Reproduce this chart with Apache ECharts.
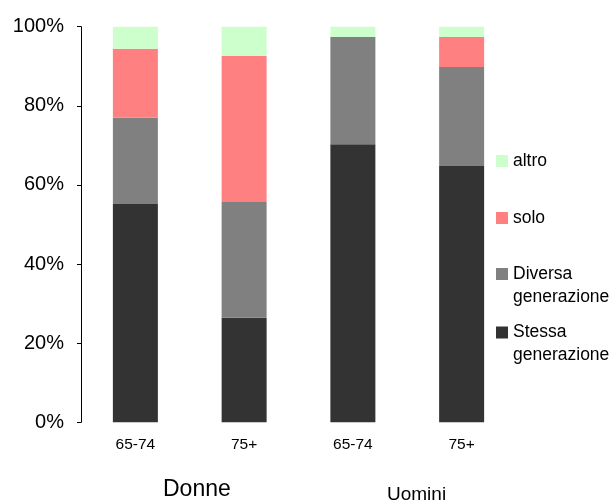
<!DOCTYPE html>
<html>
<head>
<meta charset="utf-8">
<script src="https://cdn.jsdelivr.net/npm/echarts@6/dist/echarts.min.js"></script>
<style>
  html, body { margin: 0; padding: 0; background: #fff; }
  #chart { width: 612px; height: 502px; }
</style>
</head>
<body>
<div id="chart"></div>
<script>
// Living arrangements of older people, by sex and age group (share of total, %)
const categories = ['65-74', '75+', '65-74', '75+'];
const groupLabels = ['Donne', 'Uomini'];
const yTicks = [0, 20, 40, 60, 80, 100];

const stessaGenerazione = [55.2, 26.4, 70.3, 64.8];
const diversaGenerazione = [21.8, 29.3, 27.1, 25.0];
const solo = [17.4, 36.9, 0, 7.6];
const altro = [5.6, 7.4, 2.6, 2.6];

const FONT = '"Liberation Sans", Arial, sans-serif';
const chart = echarts.init(document.getElementById('chart'), null, { renderer: 'canvas' });

const seriesDefs = [
  { name: 'Stessa generazione', data: stessaGenerazione, color: '#333333', label: '\nStessa\ngenerazione', top: 298 },
  { name: 'Diversa generazione', data: diversaGenerazione, color: '#808080', label: '\nDiversa\ngenerazione', top: 239.5 },
  { name: 'solo', data: solo, color: '#FF8080', label: 'solo', top: 206.5 },
  { name: 'altro', data: altro, color: '#CCFFCC', label: 'altro', top: 149.5 }
];

// one legend block per entry so each can sit at its own height
const legends = seriesDefs.map(s => ({
  data: [s.name],
  orient: 'vertical',
  left: 496,
  top: s.top,
  padding: 0,
  icon: 'rect',
  itemWidth: 12,
  itemHeight: 12,
  selectedMode: false,
  formatter: () => s.label,
  textStyle: { fontFamily: FONT, fontSize: 17.5, lineHeight: 23, color: '#000' }
}));

chart.setOption({
  animation: false,
  backgroundColor: '#fff',
  grid: { left: 81, right: 96, top: 26.7, bottom: 79.7 },
  legend: legends,
  xAxis: {
    type: 'category',
    data: categories,
    axisLine: { show: false },
    axisTick: { show: false },
    axisLabel: { fontFamily: FONT, fontSize: 15.5, color: '#000', margin: 14 }
  },
  yAxis: {
    type: 'value',
    min: yTicks[0],
    max: yTicks[yTicks.length - 1],
    interval: yTicks[1] - yTicks[0],
    splitLine: { show: false },
    axisLine: { show: true, lineStyle: { color: '#000', width: 1 } },
    axisTick: { show: true, length: 4, lineStyle: { color: '#000' } },
    axisLabel: { fontFamily: FONT, fontSize: 20, color: '#000', margin: 17, formatter: '{value}%' }
  },
  series: seriesDefs.map(s => ({
    name: s.name,
    type: 'bar',
    stack: 'total',
    barWidth: 45,
    data: s.data,
    itemStyle: { color: s.color }
  })),
  graphic: [
    { type: 'text', left: 200 - 37, top: 478, style: { text: groupLabels[0], fontFamily: FONT, fontSize: 23, fill: '#000' } },
    { type: 'text', left: 417 - 30, top: 485, style: { text: groupLabels[1], fontFamily: FONT, fontSize: 19, fill: '#000' } }
  ]
});
</script>
</body>
</html>
